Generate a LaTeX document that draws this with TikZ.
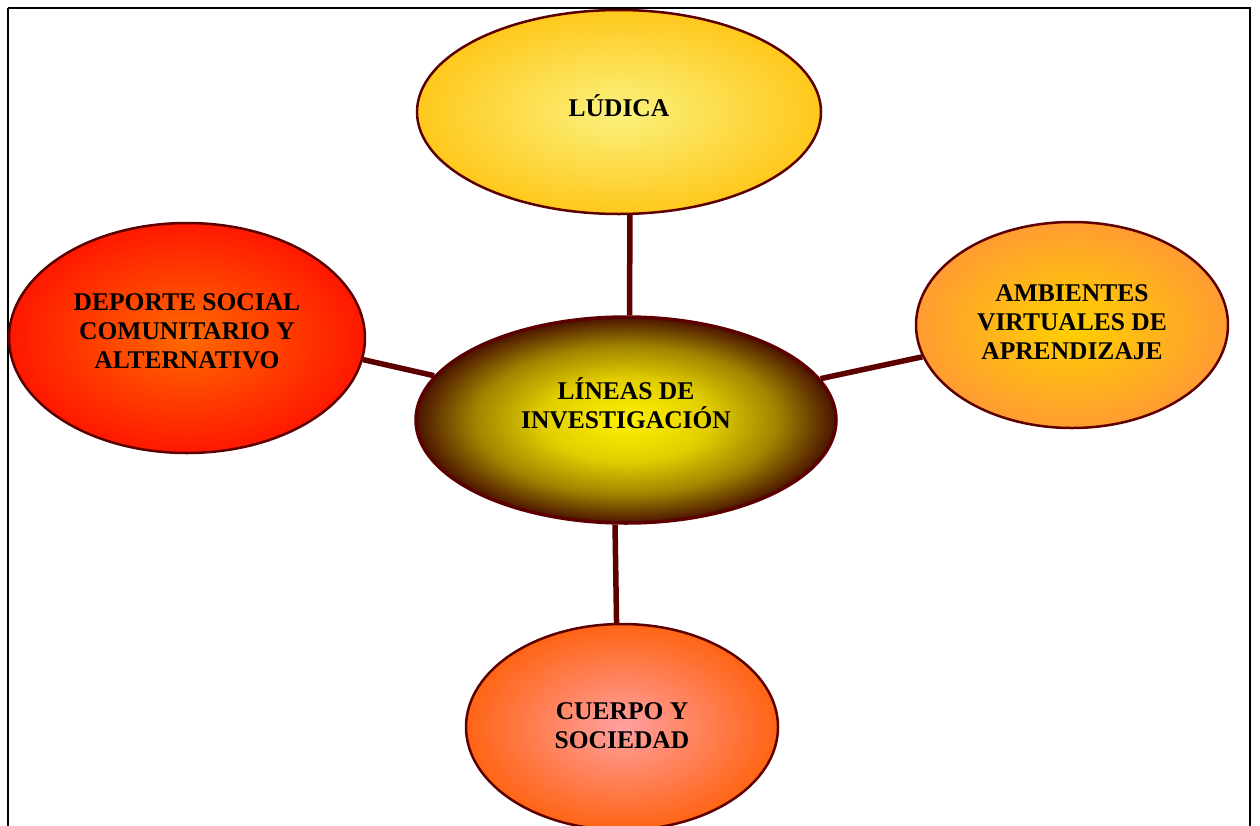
\documentclass[tikz,border=0pt]{standalone}
\usepackage{fontspec}
\setmainfont{Liberation Serif}
\usetikzlibrary{shapes.geometric}
\definecolor{edge}{HTML}{5C0000}
\definecolor{ludA}{HTML}{FAF27E}
\definecolor{ludB}{HTML}{FFC81C}
\definecolor{depA}{HTML}{FF6A00}
\definecolor{depB}{HTML}{FF1800}
\definecolor{linA}{HTML}{FFF200}
\definecolor{linB}{HTML}{E2CE00}
\definecolor{linC}{HTML}{A08400}
\definecolor{linD}{HTML}{4A1400}
\definecolor{ambA}{HTML}{FFD000}
\definecolor{ambB}{HTML}{FF9C32}
\definecolor{cueA}{HTML}{FFA0A0}
\definecolor{cueB}{HTML}{FF6414}
\pgfdeclareradialshading{shlud}{\pgfpoint{0bp}{0bp}}{color(0bp)=(ludA); color(25bp)=(ludB); color(50bp)=(ludB)}
\pgfdeclareradialshading{shdep}{\pgfpoint{0bp}{0bp}}{color(0bp)=(depA); color(25bp)=(depB); color(50bp)=(depB)}
\pgfdeclareradialshading{shlin}{\pgfpoint{0bp}{0bp}}{color(0bp)=(linA); color(10bp)=(linB); color(18bp)=(linC); color(25bp)=(linD); color(50bp)=(linD)}
\pgfdeclareradialshading{shamb}{\pgfpoint{0bp}{0bp}}{color(0bp)=(ambA); color(25bp)=(ambB); color(50bp)=(ambB)}
\pgfdeclareradialshading{shcue}{\pgfpoint{0bp}{0bp}}{color(0bp)=(cueA); color(25bp)=(cueB); color(50bp)=(cueB)}
\begin{document}
\begin{tikzpicture}[x=1pt,y=-1pt,
  ell/.style={ellipse,draw=edge,line width=2.5pt,inner sep=0pt},
  txt/.style={align=center,inner sep=0pt,font=\fontsize{25.5}{29}\selectfont\bfseries},
  link/.style={draw=edge,line width=5.5pt}]
\useasboundingbox (0,0) rectangle (1260,825);
\draw[line width=1.8pt] (8,8) -- (8,840) (8,8) -- (1250,8) -- (1250,840);
\node[ell,shading=shlud,minimum width=404pt,minimum height=204pt] (lud) at (619,112) {};
\node[ell,shading=shdep,minimum width=356pt,minimum height=230pt] (dep) at (187,338) {};
\node[ell,shading=shlin,line width=3.5pt,minimum width=420pt,minimum height=206pt] (lin) at (626,420) {};
\node[ell,shading=shamb,minimum width=312pt,minimum height=206pt] (amb) at (1072,325) {};
\node[ell,shading=shcue,minimum width=312pt,minimum height=206pt] (cue) at (622,727) {};
\path[link] (lud.-84.4) -- (lin.88.9);
\path[link] (dep.-7.8) -- (lin.167.5);
\path[link] (lin.12.3) -- (amb.-168);
\path[link] (lin.-96.1) -- (cue.93.9);
\node[txt] (ludt) at (619,106) {LÚDICA};
\node[txt] (dept) at (187,331) {DEPORTE SOCIAL\\COMUNITARIO Y\\ALTERNATIVO};
\node[txt] (lint) at (626,403) {LÍNEAS DE\\INVESTIGACIÓN};
\node[txt] (ambt) at (1072,322) {AMBIENTES\\VIRTUALES DE\\APRENDIZAJE};
\node[txt] (cuet) at (622,726) {CUERPO Y\\SOCIEDAD};
\end{tikzpicture}
\end{document}
